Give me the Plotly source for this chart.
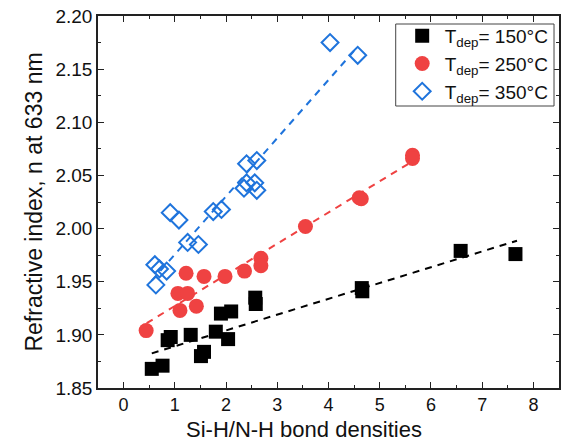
import plotly.graph_objects as go

# ---- data ----
x150 = [0.55, 0.76, 0.86, 0.92, 1.31, 1.51, 1.57, 1.80, 1.90, 2.04, 2.10, 2.57, 2.58, 4.65, 4.66, 6.58, 7.65]
y150 = [1.868, 1.871, 1.895, 1.898, 1.900, 1.880, 1.884, 1.903, 1.920, 1.896, 1.922, 1.935, 1.929, 1.944, 1.941, 1.979, 1.976]

x250 = [0.44, 1.06, 1.10, 1.22, 1.25, 1.42, 1.57, 1.98, 2.36, 2.68, 2.68, 3.55, 4.60, 4.64, 5.64, 5.64]
y250 = [1.904, 1.939, 1.923, 1.958, 1.939, 1.927, 1.955, 1.955, 1.960, 1.972, 1.965, 2.002, 2.029, 2.028, 2.069, 2.066]

x350 = [0.61, 0.63, 0.70, 0.84, 0.91, 1.08, 1.25, 1.46, 1.75, 1.91, 2.35, 2.40, 2.40, 2.56, 2.60, 2.60, 4.03, 4.57]
y350 = [1.966, 1.947, 1.962, 1.960, 2.015, 2.008, 1.987, 1.985, 2.016, 2.018, 2.038, 2.043, 2.061, 2.043, 2.036, 2.064, 2.175, 2.163]

fit150_x = [0.55, 7.68]
fit150_y = [1.8826, 1.9886]
fit250_x = [0.45, 5.63]
fit250_y = [1.911, 2.063]
fit350_x = [0.55, 4.55]
fit350_y = [1.951, 2.170]

labels = ["T<sub>dep</sub>= 150°C", "T<sub>dep</sub>= 250°C", "T<sub>dep</sub>= 350°C"]
x_ticks = [0, 1, 2, 3, 4, 5, 6, 7, 8]
x_title = "Si-H/N-H bond densities"
y_title = "Refractive index, n at 633 nm"

BLACK = "#000000"
RED = "#EF4242"
BLUE = "#1F74DC"
FONT = "Liberation Sans, Arial, sans-serif"

# plot-area geometry in pixels (for paper-coordinate conversions)
W, H = 562, 443
L, R, T, B = 98, 1, 16, 55
PW, PH = W - L - R, H - T - B


def px_x(p):
    return (p - L) / PW


def px_y(p):
    return (H - B - p) / PH


fig = go.Figure()

# fit lines
for fx, fy, c in [(fit150_x, fit150_y, BLACK), (fit250_x, fit250_y, RED), (fit350_x, fit350_y, BLUE)]:
    fig.add_trace(go.Scatter(x=fx, y=fy, mode="lines", showlegend=False,
                             line=dict(color=c, width=2, dash="7px,6px"), hoverinfo="skip"))

fig.add_trace(go.Scatter(x=x150, y=y150, mode="markers", name=labels[0],
                         marker=dict(symbol="square", size=14, color=BLACK, line=dict(width=0))))
fig.add_trace(go.Scatter(x=x250, y=y250, mode="markers", name=labels[1],
                         marker=dict(symbol="circle", size=15, color=RED, line=dict(width=0))))
fig.add_trace(go.Scatter(x=x350, y=y350, mode="markers", name=labels[2],
                         marker=dict(symbol="diamond-open", size=13, color=BLUE, line=dict(width=2, color=BLUE))))

axis_common = dict(
    showline=True, linecolor="#222222", linewidth=1.5, mirror="allticks",
    ticks="inside", ticklen=6, tickwidth=1.2, tickcolor="#222222",
    showgrid=False, zeroline=False,
)

fig.update_xaxes(range=[-0.5, 8.5], tickvals=x_ticks,
                 tickfont=dict(family=FONT, size=18, color="#111111"),
                 minor=dict(dtick=0.5, tick0=0, ticks="inside", ticklen=3, tickwidth=1.2, tickcolor="#222222"),
                 **axis_common)
fig.update_yaxes(range=[1.85, 2.20], dtick=0.05, tick0=1.85, tickformat=".2f",
                 tickfont=dict(family=FONT, size=19, color="#111111"),
                 minor=dict(dtick=0.025, tick0=1.85, ticks="inside", ticklen=3, tickwidth=1.2, tickcolor="#222222"),
                 title=dict(text=y_title, font=dict(family=FONT, size=23, color="#111111"), standoff=6),
                 **axis_common)

# x-axis title placed as annotation (offset left of plot centre, as in the reference)
fig.add_annotation(text=x_title, xref="paper", yref="paper", x=px_x(305), y=px_y(443),
                   xanchor="center", yanchor="bottom", showarrow=False, borderpad=0,
                   font=dict(family=FONT, size=22, color="#111111"))

# legend box
fig.add_shape(type="rect", xref="paper", yref="paper",
              x0=px_x(397), x1=px_x(556), y0=px_y(24), y1=px_y(106),
              fillcolor="white", line=dict(color="#444444", width=1), layer="above")

fig.update_layout(
    width=W, height=H,
    margin=dict(l=L, r=R, t=T, b=B),
    plot_bgcolor="white", paper_bgcolor="white",
    font=dict(family=FONT, color="#111111"),
    legend=dict(x=px_x(401), y=px_y(17), xanchor="left", yanchor="top",
                bgcolor="rgba(0,0,0,0)", borderwidth=0, itemwidth=35,
                font=dict(family=FONT, size=19, color="#111111"),
                itemsizing="trace"),
)

fig.write_html("out.html")
